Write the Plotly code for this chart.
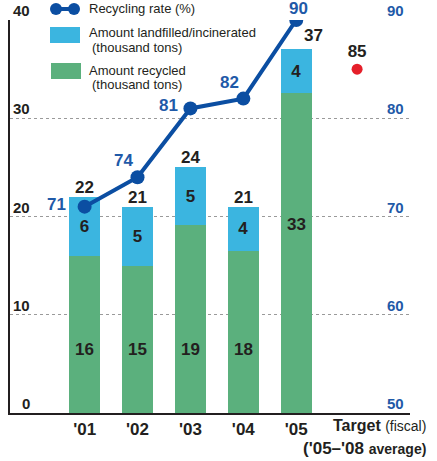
"""Recycling amounts and rate, fiscal '01-'05 plus target."""

import plotly.graph_objects as go

YEARS = ["'01", "'02", "'03", "'04", "'05"]
RECYCLED = [16, 15, 19.1, 16.5, 32.6]
LANDFILLED = [6, 6, 5.9, 4.5, 4.4]
RECYCLED_LABELS = ["16", "15", "19", "18", "33"]
LANDFILLED_LABELS = ["6", "5", "5", "4", "4"]
TOTAL_LABELS = ["22", "21", "24", "21", "37"]
RATE = [71, 74, 81, 82, 90]
TARGET_RATE = 85
AMOUNT_TICKS = [0, 10, 20, 30, 40]
RATE_TICKS = [50, 60, 70, 80, 90]

GREEN = "#5bb07d"
CYAN = "#3bb5e0"
NAVY = "#0b4ea2"
LABEL_BLUE = "#1f5aa8"
INK = "#231f20"
FONT = "Liberation Sans, Arial, sans-serif"

W, H = 437, 461
# plot area in page pixels
L, R, T, B = 10, 410, 20, 413


def px(x):
    return (x - L) / (R - L)


def py(y):
    return (B - y) / (B - T)


xs = list(range(len(YEARS)))
target_x = 5.15

fig = go.Figure()
fig.add_trace(
    go.Bar(
        x=xs,
        y=RECYCLED,
        width=0.585,
        marker=dict(color=GREEN, line_width=0),
        hoverinfo="skip",
    )
)
fig.add_trace(
    go.Bar(
        x=xs,
        y=LANDFILLED,
        width=0.585,
        marker=dict(color=CYAN, line_width=0),
        text=LANDFILLED_LABELS,
        textposition="inside",
        insidetextanchor="middle",
        textangle=0,
        textfont=dict(family=FONT, size=17, color=INK, weight="bold"),
        hoverinfo="skip",
    )
)
fig.add_trace(
    go.Scatter(
        x=xs,
        y=RATE,
        yaxis="y2",
        mode="lines+markers",
        line=dict(color=NAVY, width=4),
        marker=dict(color=NAVY, size=14),
        hoverinfo="skip",
    )
)
fig.add_trace(
    go.Scatter(
        x=[target_x],
        y=[TARGET_RATE],
        yaxis="y2",
        mode="markers+text",
        marker=dict(color="#e51f2a", size=11),
        text=[str(TARGET_RATE)],
        textposition="top center",
        textfont=dict(family=FONT, size=17, color=INK, weight="bold"),
        hoverinfo="skip",
    )
)

annotations = []
# axis numbers sit inside the plot, just above each gridline
for v in AMOUNT_TICKS:
    annotations.append(
        dict(
            x=px(32), y=v, xref="paper", yref="y", text=f"<b>{v}</b>",
            showarrow=False, xanchor="right", yanchor="bottom", yshift=-1,
            font=dict(family=FONT, size=15, color=INK),
        )
    )
for v in RATE_TICKS:
    annotations.append(
        dict(
            x=px(406), y=v, xref="paper", yref="y2", text=f"<b>{v}</b>",
            showarrow=False, xanchor="right", yanchor="bottom", yshift=-1,
            font=dict(family=FONT, size=15, color=LABEL_BLUE),
        )
    )
# totals above the stacks
for i, lab in enumerate(TOTAL_LABELS):
    annotations.append(
        dict(
            x=xs[i], y=RECYCLED[i] + LANDFILLED[i], xref="x", yref="y",
            text=f"<b>{lab}</b>", showarrow=False, yanchor="bottom",
            xshift=17 if i == 4 else 0, yshift=-2 if i < 4 else 2,
            font=dict(family=FONT, size=17, color=INK),
        )
    )
# recycled amounts inside the green bars
rec_label_y = [6.5, 6.5, 6.5, 6.5, 19.2]
for i, lab in enumerate(RECYCLED_LABELS):
    annotations.append(
        dict(
            x=xs[i], y=rec_label_y[i], xref="x", yref="y",
            text=f"<b>{lab}</b>", showarrow=False,
            font=dict(family=FONT, size=17, color=INK),
        )
    )
# rate labels next to the markers
rate_shift = [(-28, 2), (-14, 17), (-22, 3), (-14, 16), (2, 12)]
for i, v in enumerate(RATE):
    dx, dy = rate_shift[i]
    annotations.append(
        dict(
            x=xs[i], y=v, xref="x", yref="y2", text=f"<b>{v}</b>",
            showarrow=False, xshift=dx, yshift=dy,
            font=dict(family=FONT, size=17, color=LABEL_BLUE),
        )
    )
# target caption
annotations.append(
    dict(
        x=px(428), y=py(425), xref="paper", yref="paper", xanchor="right",
        yanchor="middle", showarrow=False,
        text="<b>Target</b> <span style='font-size:14px'>(fiscal)</span>",
        font=dict(family=FONT, size=16, color=INK),
    )
)
annotations.append(
    dict(
        x=px(428), y=py(448), xref="paper", yref="paper", xanchor="right",
        yanchor="middle", showarrow=False,
        text="<b>('05–'08 <span style='font-size:14px'>average)</span></b>",
        font=dict(family=FONT, size=17, color=INK),
    )
)
# legend text
legend_lines = [
    ("Recycling rate (%)", 87, 9),
    ("Amount landfilled/incinerated", 87, 32),
    ("(thousand tons)", 90, 47),
    ("Amount recycled", 87, 70),
    ("(thousand tons)", 90, 85),
]
for txt, lx, ly in legend_lines:
    annotations.append(
        dict(
            x=px(lx), y=py(ly), xref="paper", yref="paper", xanchor="left",
            yanchor="middle", showarrow=False, text=txt,
            font=dict(family=FONT, size=13, color=INK),
        )
    )

shapes = [
    dict(type="line", xref="paper", yref="paper", x0=px(56), x1=px(74),
         y0=py(9), y1=py(9), line=dict(color=NAVY, width=4)),
    dict(type="circle", xref="paper", yref="paper", x0=px(50), x1=px(62),
         y0=py(15), y1=py(3), fillcolor=NAVY, line_width=0),
    dict(type="circle", xref="paper", yref="paper", x0=px(68), x1=px(80),
         y0=py(15), y1=py(3), fillcolor=NAVY, line_width=0),
    dict(type="rect", xref="paper", yref="paper", x0=px(50), x1=px(80),
         y0=py(43), y1=py(27), fillcolor=CYAN, line_width=0),
    dict(type="rect", xref="paper", yref="paper", x0=px(51), x1=px(81),
         y0=py(79), y1=py(63), fillcolor=GREEN, line_width=0),
]

fig.update_layout(
    width=W,
    height=H,
    margin=dict(l=L, r=W - R, t=T, b=H - B, autoexpand=False),
    barmode="stack",
    showlegend=False,
    plot_bgcolor="white",
    paper_bgcolor="white",
    font=dict(family=FONT, color=INK),
    annotations=annotations,
    shapes=shapes,
    xaxis=dict(
        range=[-1.41, 6.15],
        tickvals=xs,
        ticktext=[f"<b>{y}</b>" for y in YEARS],
        tickfont=dict(family=FONT, size=17, color=INK),
        showgrid=False,
        zeroline=False,
        showline=True,
        linecolor=INK,
        linewidth=2,
        ticks="",
    ),
    yaxis=dict(
        range=[0, 40],
        tickvals=AMOUNT_TICKS,
        showticklabels=False,
        showgrid=True,
        gridcolor="#9a9a9a",
        griddash="dot",
        gridwidth=1,
        zeroline=False,
        showline=True,
        linecolor=INK,
        linewidth=1.5,
        ticks="",
    ),
    yaxis2=dict(
        range=[50, 90],
        overlaying="y",
        side="right",
        tickvals=RATE_TICKS,
        showticklabels=False,
        showgrid=False,
        zeroline=False,
        showline=False,
        ticks="",
    ),
)

# drop the default page margin so the figure fills the window exactly
fig.write_html(
    "out.html",
    config={"displayModeBar": False},
    post_script="document.body.style.margin='0px';",
)
